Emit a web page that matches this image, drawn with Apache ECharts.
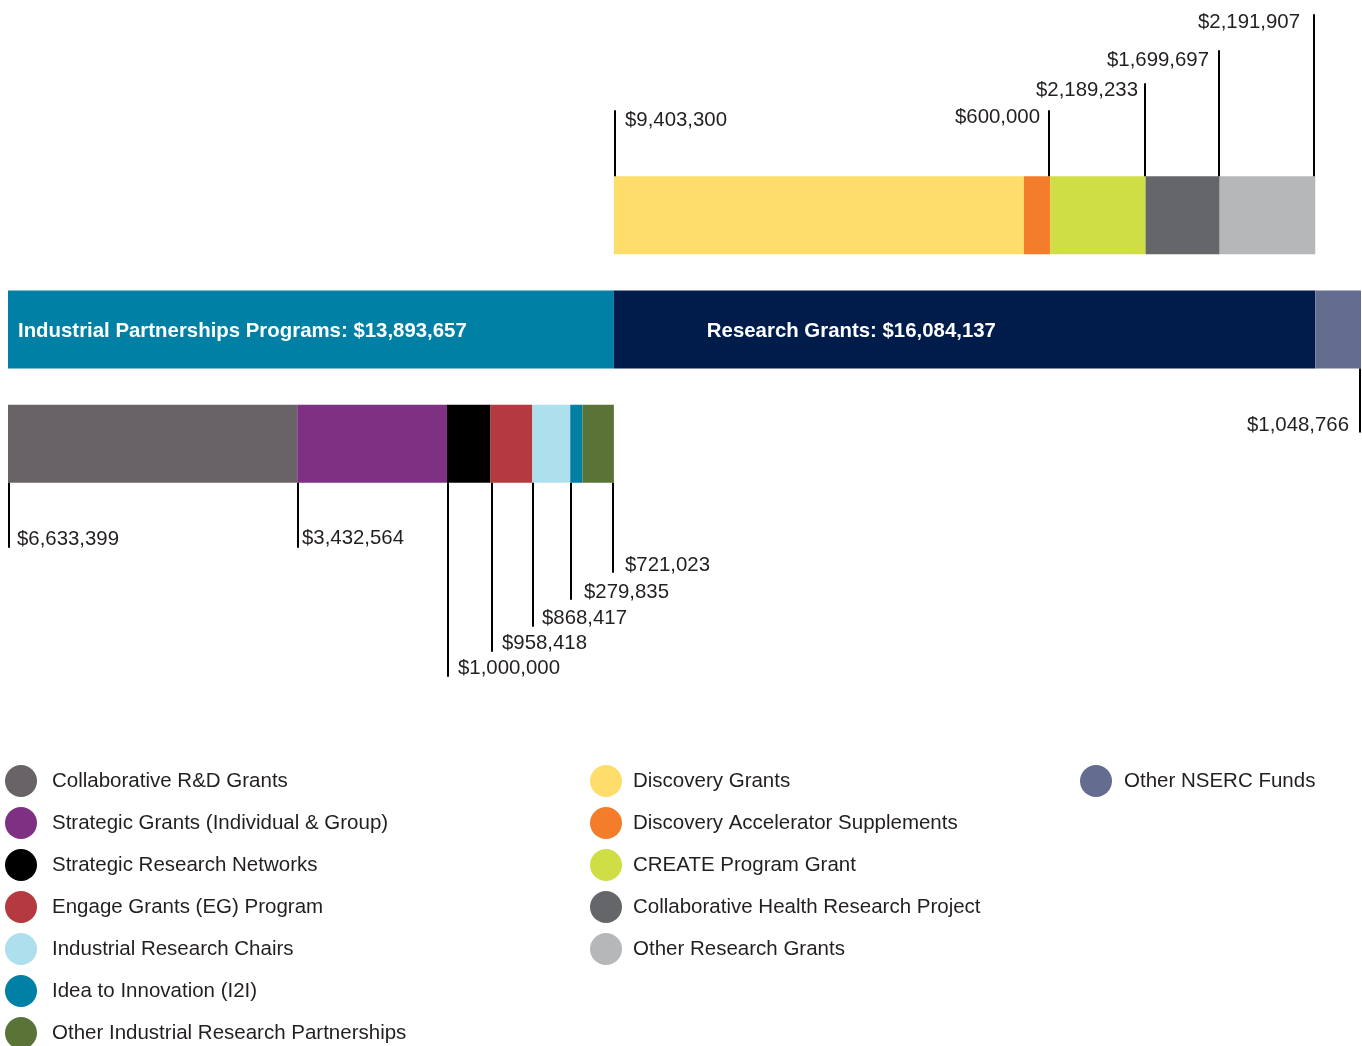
<!DOCTYPE html>
<html>
<head>
<meta charset="utf-8">
<script src="https://cdn.jsdelivr.net/npm/echarts@6/dist/echarts.min.js"></script>
<style>
html,body{margin:0;padding:0;background:#fff;}
#chart{width:1362px;height:1046px;}
</style>
</head>
<body>
<div id="chart"></div>
<script>
// ---- Data ----
const rows = ['Research Grants breakdown', 'NSERC total', 'Industrial Partnerships breakdown'];

const totalNames = ['Industrial Partnerships Programs', 'Research Grants', 'Other NSERC Funds'];
const totalValues = [13893657, 16084137, 1048766];

const researchNames = ['Discovery Grants', 'Discovery Accelerator Supplements', 'CREATE Program Grant', 'Collaborative Health Research Project', 'Other Research Grants'];
const researchValues = [9403300, 600000, 2189233, 1699697, 2191907];

const industrialNames = ['Collaborative R&D Grants', 'Strategic Grants (Individual & Group)', 'Strategic Research Networks', 'Engage Grants (EG) Program', 'Industrial Research Chairs', 'Idea to Innovation (I2I)', 'Other Industrial Research Partnerships'];
const industrialValues = [6633399, 3432564, 1000000, 958418, 868417, 279835, 721023];

// ---- Styles ----
const totalColors = ['#0080A5', '#001C4B', '#646D8F'];
const researchColors = ['#FEDD6A', '#F47D2B', '#CFDE45', '#64666A', '#B6B7B8'];
const industrialColors = ['#686366', '#7E3083', '#000000', '#B43A40', '#ADE0EC', '#0080A5', '#5A7337'];

// leader line layout per labelled segment: edge, length(px), label side, gap, text offset from line end
const researchLeaders = [
  {edge: 'start', len: 66, side: 'right', gap: 10, dy: 10},
  {edge: 'end', len: 66, side: 'left', gap: 9, dy: 7},
  {edge: 'end', len: 93, side: 'left', gap: 7, dy: 7},
  {edge: 'end', len: 126, side: 'left', gap: 10, dy: 10},
  {edge: 'end', len: 162, side: 'left', gap: 14, dy: 8}
];
const industrialLeaders = [
  {edge: 'start', len: 65, side: 'right', gap: 8, dy: 8},
  {edge: 'start', len: 65, side: 'right', gap: 4, dy: 9},
  {edge: 'start', len: 194, side: 'right', gap: 10, dy: 8},
  {edge: 'start', len: 169, side: 'right', gap: 10, dy: 8},
  {edge: 'start', len: 144, side: 'right', gap: 9, dy: 8},
  {edge: 'start', len: 117, side: 'right', gap: 13, dy: 7},
  {edge: 'end', len: 90, side: 'right', gap: 12, dy: 7}
];
const otherLeader = {edge: 'end', len: 64, side: 'left', gap: 11, dy: 7};

const TEXT = '#231F20';
const FONT = "'Liberation Sans', Arial, Helvetica, sans-serif";
const fmt = v => '$' + v.toLocaleString('en-US');

function rowData(rowIdx, v) {
  return rows.map((_, i) => i === rowIdx ? v : '-');
}

const series = [];
// transparent offset so the Research breakdown starts where Industrial total ends
series.push({
  name: '_offset', type: 'bar', stack: 'all', barWidth: 78, silent: true,
  itemStyle: {color: 'rgba(0,0,0,0)'}, data: rowData(0, totalValues[0])
});
researchNames.forEach((n, i) => series.push({
  name: n, type: 'bar', stack: 'all', barWidth: 78, itemStyle: {color: researchColors[i]},
  data: rowData(0, researchValues[i])
}));
totalNames.forEach((n, i) => {
  const s = {
    name: n, type: 'bar', stack: 'all', barWidth: 78, itemStyle: {color: totalColors[i]},
    data: rowData(1, totalValues[i])
  };
  if (i === 0) {
    s.label = {show: true, position: 'insideLeft', distance: 10, offset: [0, 2], color: '#fff', fontWeight: 'bold', fontSize: 20.4, fontFamily: FONT,
      formatter: () => totalNames[0] + ': ' + fmt(totalValues[0])};
  } else if (i === 1) {
    s.label = {show: true, position: [93, '50%'], offset: [0, 2], verticalAlign: 'middle', align: 'left', color: '#fff', fontWeight: 'bold', fontSize: 20.4, fontFamily: FONT,
      formatter: () => totalNames[1] + ': ' + fmt(totalValues[1])};
  }
  series.push(s);
});
industrialNames.forEach((n, i) => series.push({
  name: n, type: 'bar', stack: 'all', barWidth: 78, itemStyle: {color: industrialColors[i]},
  data: rowData(2, industrialValues[i])
}));

// leader lines + value labels
const leaderData = [];
const leaderSpecs = [];
(function () {
  let cum = totalValues[0];
  researchValues.forEach((v, i) => {
    const L = researchLeaders[i];
    leaderData.push([L.edge === 'start' ? cum : cum + v, 0, v]);
    leaderSpecs.push(Object.assign({dir: -1}, L));
    cum += v;
  });
  const totalAll = totalValues.reduce((a, b) => a + b, 0);
  leaderData.push([totalAll, 1, totalValues[2]]);
  leaderSpecs.push(Object.assign({dir: 1}, otherLeader));
  cum = 0;
  industrialValues.forEach((v, i) => {
    const L = industrialLeaders[i];
    leaderData.push([L.edge === 'start' ? cum : cum + v, 2, v]);
    leaderSpecs.push(Object.assign({dir: 1}, L));
    cum += v;
  });
})();

series.push({
  name: '_leaders', type: 'custom', clip: false, silent: true, z: 10,
  encode: {x: 0, y: 1},
  data: leaderData,
  renderItem: function (params, api) {
    const s = leaderSpecs[params.dataIndex];
    const p = api.coord([api.value(0), api.value(1)]);
    let x = Math.round(p[0]);
    if (s.edge === 'start') x += 1; else x -= 1;
    const y0 = p[1] + s.dir * 39;
    const y1 = y0 + s.dir * s.len;
    const ty = s.dir < 0 ? y1 + s.dy : y1 - s.dy;
    return {
      type: 'group',
      children: [
        {type: 'line', shape: {x1: x, y1: y0, x2: x, y2: y1}, style: {stroke: '#000', lineWidth: 2}},
        {type: 'text', style: {
          text: fmt(api.value(2)), x: s.side === 'right' ? x + s.gap : x - s.gap, y: ty,
          align: s.side === 'right' ? 'left' : 'right', verticalAlign: 'middle',
          fill: TEXT, font: '20.4px ' + FONT
        }}
      ]
    };
  }
});

const totalAll = totalValues.reduce((a, b) => a + b, 0);

function legend(left, names, pad) {
  return {
    left: left, top: 765, height: 320, orient: 'vertical', icon: 'circle', padding: 0,
    itemWidth: 32, itemHeight: 32, itemGap: 10, selectedMode: false,
    data: names,
    textStyle: {fontSize: 20.5, color: TEXT, fontFamily: FONT, padding: [1, 0, 0, pad]}
  };
}

const chart = echarts.init(document.getElementById('chart'), null, {renderer: 'canvas'});
chart.setOption({
  animation: false,
  backgroundColor: '#fff',
  grid: {left: 8, right: 1, top: 158, height: 343},
  xAxis: {type: 'value', min: 0, max: totalAll, show: false},
  yAxis: {type: 'category', data: rows, inverse: true, show: false},
  legend: [
    legend(5, industrialNames, 10),
    legend(590, researchNames, 6),
    legend(1080, [totalNames[2]], 7)
  ],
  series: series
});
</script>
</body>
</html>
